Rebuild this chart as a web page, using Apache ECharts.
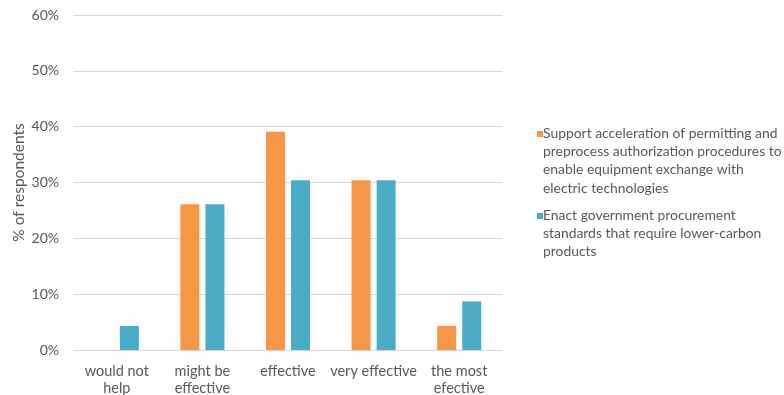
<!DOCTYPE html>
<html>
<head>
<meta charset="utf-8">
<script src="https://cdn.jsdelivr.net/npm/echarts@6/dist/echarts.min.js"></script>
<style>html,body{margin:0;padding:0;background:#fff;}#c{width:784px;height:395px;}</style>
</head>
<body>
<div id="c"></div>
<script>
var categories = ['would not\nhelp', 'might be\neffective', 'effective', 'very effective', 'the most\nefective'];
var seriesNames = [
  'Support acceleration of permitting and\npreprocess authorization procedures to\nenable equipment exchange with\nelectric technologies',
  'Enact government procurement\nstandards that require lower-carbon\nproducts'
];
var permittingValues = [0, 26.1, 39.1, 30.4, 4.3];
var procurementValues = [4.3, 26.1, 30.4, 30.4, 8.7];
var yTicks = [0, 10, 20, 30, 40, 50, 60];
var colors = ['#F79646', '#4BACC6'];

var FONT = 'Lato';
var TEXT = '#595959';
var chart = echarts.init(document.getElementById('c'));

var legendGraphics = [];
var legendTops = [124, 206];
seriesNames.forEach(function (n, i) {
  legendGraphics.push({
    type: 'rect', left: 537, top: legendTops[i] + 7,
    shape: { width: 6, height: 6 }, style: { fill: colors[i] }
  });
  legendGraphics.push({
    type: 'text', left: 543, top: legendTops[i],
    style: { text: n, font: '13.9px ' + FONT, fill: TEXT, lineHeight: 18.4 }
  });
});

chart.setOption({
  animation: false,
  textStyle: { fontFamily: FONT },
  grid: { left: 74, right: 282, top: 15, bottom: 45, outerBoundsMode: 'none', containLabel: false },
  xAxis: {
    type: 'category',
    data: categories,
    axisLine: { show: true, lineStyle: { color: '#D9D9D9', width: 1 } },
    axisTick: { show: false },
    axisLabel: { color: TEXT, fontSize: 14.5, fontFamily: FONT, lineHeight: 17, margin: 12.5, interval: 0 }
  },
  yAxis: {
    type: 'value',
    min: yTicks[0], max: yTicks[yTicks.length - 1], interval: 10,
    name: '% of respondents',
    nameLocation: 'middle', nameRotate: 90, nameGap: 47, nameMoveOverlap: false,
    nameTextStyle: { color: TEXT, fontSize: 15.5, fontFamily: FONT },
    axisLine: { show: false }, axisTick: { show: false },
    axisLabel: { color: TEXT, fontSize: 14, fontFamily: FONT, margin: 15, formatter: '{value}%' },
    splitLine: { lineStyle: { color: '#D9D9D9', width: 1 } }
  },
  series: [
    { name: seriesNames[0], type: 'bar', data: permittingValues, barWidth: 19, barGap: '32%',
      itemStyle: { color: colors[0] } },
    { name: seriesNames[1], type: 'bar', data: procurementValues, barWidth: 19, barGap: '32%',
      itemStyle: { color: colors[1] } }
  ],
  graphic: legendGraphics
});
</script>
</body>
</html>
